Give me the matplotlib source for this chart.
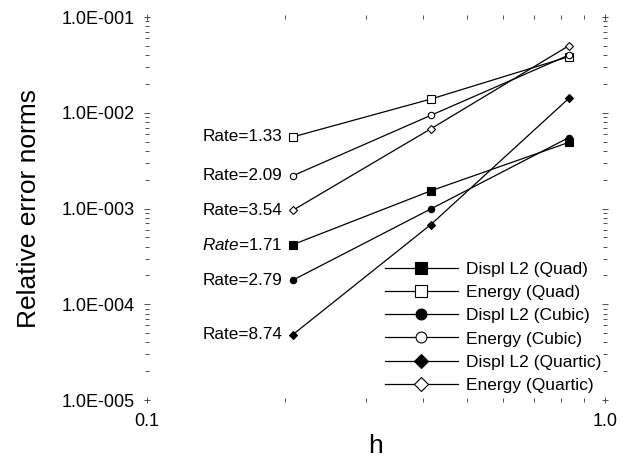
import numpy as np
import matplotlib
matplotlib.use('Agg')
import matplotlib.pyplot as plt
from matplotlib.ticker import LogLocator, FixedLocator, NullFormatter

plt.rcParams['font.family'] = ['Liberation Sans', 'DejaVu Sans']
plt.rcParams['mathtext.fontset'] = 'custom'
plt.rcParams['mathtext.rm'] = 'Liberation Sans'
plt.rcParams['mathtext.it'] = 'Liberation Sans:italic'

# mesh sizes
h = [0.2083, 0.4167, 0.8333]

# error norms per series
displ_quad = [4.2e-4, 1.53e-3, 4.9e-3]
energy_quad = [5.6e-3, 1.39e-2, 3.85e-2]
displ_cubic = [1.79e-4, 9.9e-4, 5.5e-3]
energy_cubic = [2.2e-3, 9.4e-3, 4.0e-2]
displ_quartic = [4.83e-5, 6.8e-4, 1.41e-2]
energy_quartic = [9.6e-4, 6.8e-3, 5.0e-2]

series_names = ['Displ L2 (Quad)', 'Energy (Quad)', 'Displ L2 (Cubic)',
                'Energy (Cubic)', 'Displ L2 (Quartic)', 'Energy (Quartic)']
rates = ['1.71', '1.33', '2.79', '2.09', '8.74', '3.54']

series = [displ_quad, energy_quad, displ_cubic, energy_cubic, displ_quartic, energy_quartic]
markers = ['s', 's', 'o', 'o', 'D', 'D']
fills = ['k', 'white', 'k', 'white', 'k', 'white']
msizes = [5.2, 5.2, 4.6, 4.6, 4.2, 4.2]

fig = plt.figure(figsize=(6.29, 4.61), dpi=100)
ax = fig.add_axes([147 / 629, 1 - 400 / 461, 458 / 629, 383 / 461])

for ys, name, m, fc, ms, r in zip(series, series_names, markers, fills, msizes, rates):
    ax.plot(h, ys, color='k', lw=0.9, marker=m, markersize=ms,
            markerfacecolor=fc, markeredgecolor='k', markeredgewidth=0.8, label=name)
    if r == '1.71':
        txt = r'$\mathit{Rate}$=' + r
    else:
        txt = 'Rate=' + r
    ax.annotate(txt, (h[0], ys[0]), xytext=(-7.5, 0), textcoords='offset points',
                ha='right', va='center', fontsize=12.3)

ax.set_xscale('log')
ax.set_yscale('log')
ax.set_xlim(0.1, 1.0)
ax.set_ylim(1e-5, 1e-1)

for s in ax.spines.values():
    s.set_visible(False)

ax.xaxis.set_major_locator(FixedLocator([0.1, 1.0]))
ax.xaxis.set_minor_locator(LogLocator(base=10, subs=np.arange(2, 10)))
ax.set_xticklabels(['0.1', '1.0'])
ax.xaxis.set_minor_formatter(NullFormatter())
ax.yaxis.set_major_locator(FixedLocator([1e-5, 1e-4, 1e-3, 1e-2, 1e-1]))
ax.set_yticklabels(['1.0E-005', '1.0E-004', '1.0E-003', '1.0E-002', '1.0E-001'])
ax.yaxis.set_minor_locator(LogLocator(base=10, subs=np.arange(2, 10)))
ax.yaxis.set_minor_formatter(NullFormatter())

ax.tick_params(which='both', direction='inout', top=True, right=True,
               width=0.6, color='#333333', labelsize=13)
ax.tick_params(which='major', length=4)
ax.tick_params(which='minor', length=3)
ax.tick_params(axis='x', which='major', pad=7)
ax.tick_params(axis='y', which='major', pad=7)

ax.set_xlabel('h', fontsize=19, labelpad=3)
ax.set_ylabel('Relative error norms', fontsize=19, labelpad=15)

ax.legend(loc='upper left', bbox_to_anchor=(385 / 629, 1 - 262 / 461),
          bbox_transform=fig.transFigure, frameon=False, fontsize=12.5,
          handlelength=4.2, handletextpad=0.45, labelspacing=0.46,
          borderpad=0, borderaxespad=0, markerscale=1.7)

fig.savefig('out.png', dpi=100)
